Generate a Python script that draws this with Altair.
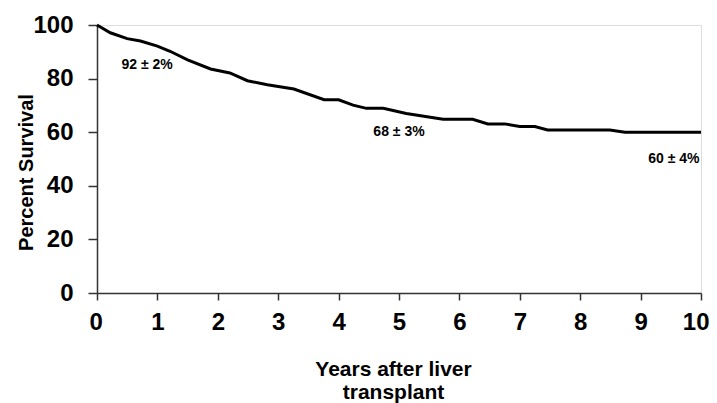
import altair as alt
import pandas as pd

# Survival curve
years = [0, 0.22, 0.5, 0.72, 1.0, 1.21, 1.5, 1.88, 2.2, 2.49, 2.82, 3.26, 3.76, 4.0,
         4.24, 4.46, 4.74, 5.12, 5.73, 6.22, 6.47, 6.75, 7.0, 7.25, 7.46, 8.49, 8.74, 10.0]
survival = [100, 97.1, 94.9, 94.0, 92.1, 90.2, 87.0, 83.6, 82.1, 79.2, 77.7, 76.1, 72.1, 72.1,
            70.1, 68.9, 68.9, 67.0, 64.8, 64.8, 63.1, 63.1, 62.1, 62.1, 60.8, 60.8, 60.0, 60.0]

# Annotations
ann_text = ["92 \u00b1 2%", "68 \u00b1 3%", "60 \u00b1 4%"]
ann_year = [0.83, 5.0, 9.55]
ann_value = [85, 60, 50]

curve = pd.DataFrame({"year": years, "survival": survival})
ann = pd.DataFrame({"label": ann_text, "year": ann_year, "value": ann_value})

FONT = "Liberation Sans"

x_scale = alt.Scale(domain=[0, 10], nice=False, zero=False)
y_scale = alt.Scale(domain=[0, 100], nice=False)

line = alt.Chart(curve).mark_line(color="black", strokeWidth=3, interpolate="linear").encode(
    x=alt.X("year:Q", scale=x_scale,
            axis=alt.Axis(values=list(range(0, 11)), format="d",
                          title=["Years after liver", "transplant"],
                          titleFont=FONT, titleFontSize=21, titleFontWeight="bold",
                          titleColor="black", titleLineHeight=23,
                          titleX=296, titleY=82, titleBaseline="alphabetic",
                          labelFont=FONT, labelFontSize=24, labelFontWeight="bold",
                          labelColor="black", labelPadding=10, labelFlush=True,
                          labelFlushOffset=8, labelOverlap=False,
                          tickSize=7, tickColor="#333", tickWidth=1.5,
                          domainColor="#333", domainWidth=1.5, grid=False)),
    y=alt.Y("survival:Q", scale=y_scale,
            axis=alt.Axis(values=[0, 20, 40, 60, 80, 100],
                          title="Percent Survival",
                          titleFont=FONT, titleFontSize=20, titleFontWeight="bold",
                          titleColor="black", titleX=-65, titleY=147,
                          titleBaseline="alphabetic", titleAngle=270,
                          labelFont=FONT, labelFontSize=24, labelFontWeight="bold",
                          labelColor="black", labelPadding=15, labelFlush=False,
                          labelOverlap=False,
                          tickSize=9, tickColor="#333", tickWidth=1.5,
                          domainColor="#333", domainWidth=1.5, grid=False)),
)

text = alt.Chart(ann).mark_text(font=FONT, fontSize=14, fontWeight="bold",
                                color="black", align="center", baseline="middle").encode(
    x=alt.X("year:Q", scale=x_scale),
    y=alt.Y("value:Q", scale=y_scale),
    text="label:N",
)

chart = (line + text).properties(
    width=604, height=268,
    autosize=alt.AutoSizeParams(type="none"),
    padding={"left": 89, "top": 17, "right": 8, "bottom": 110},
).configure_view(stroke=None).configure(background="white")

chart.save("out.html", embed_options={"renderer": "svg", "actions": False})
